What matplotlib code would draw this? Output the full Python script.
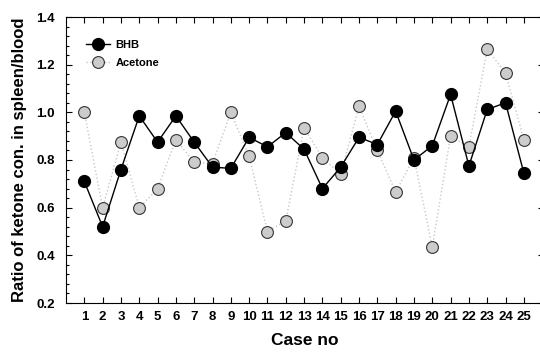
import numpy as np
import matplotlib
matplotlib.use("Agg")
import matplotlib.pyplot as plt
from matplotlib.ticker import MultipleLocator

plt.rcParams["font.family"] = ["Liberation Sans", "DejaVu Sans"]
plt.rcParams["font.weight"] = "bold"

# data
cases = np.arange(1, 26)
bhb = [0.71, 0.52, 0.76, 0.985, 0.875, 0.985, 0.875, 0.77, 0.765, 0.895,
       0.855, 0.915, 0.845, 0.68, 0.77, 0.895, 0.865, 1.005, 0.80, 0.86,
       1.075, 0.775, 1.012, 1.04, 0.745]
acetone = [1.0, 0.60, 0.875, 0.60, 0.68, 0.885, 0.79, 0.785, 1.0, 0.815,
           0.50, 0.545, 0.935, 0.81, 0.74, 1.025, 0.84, 0.665, 0.81, 0.435,
           0.90, 0.855, 1.265, 1.165, 0.885]

fig = plt.figure(figsize=(5.4, 3.56), dpi=100)
# right spine sits just past the canvas edge, as in the reference
ax = fig.add_axes([66 / 540, 53 / 356, 478 / 540, 286 / 356])

ax.plot(cases, acetone, linestyle=":", color="#c8c8c8", linewidth=1.0,
        marker="o", markersize=8.5, markerfacecolor="#cccccc",
        markeredgecolor="#333333", markeredgewidth=0.8, label="Acetone", zorder=2)
ax.plot(cases, bhb, linestyle="-", color="black", linewidth=1.0,
        marker="o", markersize=8.5, markerfacecolor="black",
        markeredgecolor="black", label="BHB", zorder=3)

ax.set_xlim(0, 26.1)
ax.set_ylim(0.2, 1.4)
ax.set_xticks(cases)
ax.yaxis.set_major_locator(MultipleLocator(0.2))
ax.yaxis.set_minor_locator(MultipleLocator(0.04))
ax.tick_params(which="both", direction="in", top=True, right=True, width=0.8)
ax.tick_params(which="major", length=4, labelsize=9.5)
ax.tick_params(axis="y", which="major", pad=8)
ax.tick_params(axis="x", which="major", pad=6)
ax.tick_params(which="minor", length=2.5)
for lab in ax.get_xticklabels() + ax.get_yticklabels():
    lab.set_fontweight("bold")
ax.set_yticklabels([f"{v:.1f}" for v in ax.get_yticks()])

ax.set_xlabel("Case no", fontsize=12.5, fontweight="bold", labelpad=7)
ax.set_ylabel("Ratio of ketone con. in spleen/blood", fontsize=12,
              fontweight="bold", labelpad=7)

handles, labels = ax.get_legend_handles_labels()
ax.legend(handles[::-1], labels[::-1], loc="upper left", frameon=False,
          bbox_to_anchor=(0.02, 0.955), handlelength=2.2, handletextpad=0.5,
          labelspacing=0.75, prop={"weight": "bold", "size": 8})

fig.savefig("out.png", dpi=100)
